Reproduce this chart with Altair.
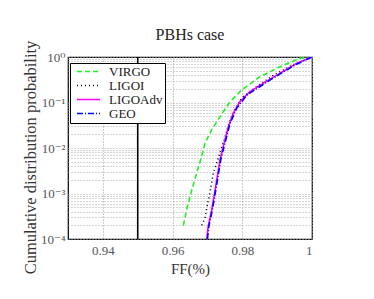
import altair as alt
import pandas as pd

# ---- data ----
virgo_ff = [0.9631, 0.9640, 0.9655, 0.9669, 0.9683, 0.9693, 0.9712, 0.9736, 0.9765, 0.9798, 0.9851, 0.9908, 0.9966, 1.0]
virgo_p = [2.0e-4, 4.3e-4, 1.19e-3, 2.78e-3, 6.45e-3, 1.27e-2, 2.49e-2, 4.88e-2, 0.104, 0.188, 0.369, 0.61, 0.936, 1.0]

ligoi_ff = [0.9684, 0.9693, 0.9698, 0.9707, 0.9717, 0.9736, 0.9748, 0.9762, 0.9778, 0.9800, 0.9840, 0.9890, 0.9950, 1.0]
ligoi_p = [2.0e-4, 2.9e-4, 4.8e-4, 1.03e-3, 2.8e-3, 7.8e-3, 1.5e-2, 3.5e-2, 7.0e-2, 0.13, 0.22, 0.40, 0.70, 1.0]

ligoadv_ff = [0.9698, 0.9702, 0.9712, 0.9722, 0.9736, 0.9745, 0.9760, 0.9774, 0.9793, 0.9822, 0.9860, 0.9908, 0.9956, 1.0]
ligoadv_p = [1.0e-4, 1.86e-4, 4.3e-4, 1.19e-3, 5.45e-3, 1.07e-2, 2.9e-2, 5.8e-2, 0.104, 0.173, 0.264, 0.438, 0.727, 1.0]

geo_ff = [0.9700, 0.9704, 0.9714, 0.9724, 0.9738, 0.9750, 0.9765, 0.9784, 0.9813, 0.9879, 0.9951, 1.0]
geo_p = [1.0e-4, 1.9e-4, 4.3e-4, 1.2e-3, 5.4e-3, 1.27e-2, 3.5e-2, 7.46e-2, 0.146, 0.31, 0.667, 1.0]

threshold_ff = [0.95]

detectors = ["VIRGO", "LIGOI", "LIGOAdv", "GEO"]
det_colors = ["#22ee22", "#000000", "#ff00ff", "#0000ff"]
det_dashes = [[5, 3], [1, 3], [1, 0], [6, 2, 1, 2]]

x_ticks = [0.94, 0.96, 0.98, 1.0]
y_grid = [m * 10.0 ** e for e in range(-4, 0) for m in range(1, 10)] + [1.0]

# ---- tables ----
rows = []
for name, xs, ps in [("VIRGO", virgo_ff, virgo_p), ("LIGOI", ligoi_ff, ligoi_p),
                     ("LIGOAdv", ligoadv_ff, ligoadv_p), ("GEO", geo_ff, geo_p)]:
    for i, (xv, pv) in enumerate(zip(xs, ps)):
        rows.append({"detector": name, "ff": xv, "p": pv, "order": i})
df = pd.DataFrame(rows)
thr = pd.DataFrame({"ff": threshold_ff})

FONT = "Liberation Serif, DejaVu Serif, serif"

xscale = alt.Scale(domain=[0.93, 1.0], nice=False, zero=False)
yscale = alt.Scale(type="log", domain=[1e-4, 1.0], nice=False)

ylabel_expr = ("datum.value > 0.95 ? '10⁰' : (abs(datum.value-0.1)<1e-9 ? '10⁻¹' : "
               "(abs(datum.value-0.01)<1e-10 ? '10⁻²' : (abs(datum.value-0.001)<1e-11 ? '10⁻³' : "
               "(abs(datum.value-0.0001)<1e-12 ? '10⁻⁴' : ''))))")

lines = alt.Chart(df).mark_line(strokeWidth=1.6, clip=True).encode(
    x=alt.X("ff:Q", scale=xscale,
            axis=alt.Axis(values=x_ticks, title="FF(%)", ticks=False, labelPadding=5,
                          labelExpr="datum.value == 1 ? '1' : format(datum.value, '.2f')",
                          grid=True, gridDash=[1, 2], gridColor="#999999",
                          titleY=22)),
    y=alt.Y("p:Q", scale=yscale,
            axis=alt.Axis(values=y_grid, title="Cumulative distribution probability",
                          ticks=False, labelPadding=3, labelExpr=ylabel_expr, labelFlush=False,
                          labelBaseline="middle", labelOverlap=False,
                          grid=True, gridDash=[1, 2], gridColor="#aaaaaa",
                          titleX=-30, titleY=100, titleFontSize=16.5)),
    color=alt.Color("detector:N", scale=alt.Scale(domain=detectors, range=det_colors),
                    legend=alt.Legend(title=None, orient="none", legendX=2, legendY=6)),
    strokeDash=alt.StrokeDash("detector:N", scale=alt.Scale(domain=detectors, range=det_dashes),
                              legend=alt.Legend(title=None, orient="none", legendX=2, legendY=6)),
    order="order:Q",
)

vline = alt.Chart(thr).mark_rule(color="black", strokeWidth=1.6).encode(x=alt.X("ff:Q", scale=xscale))

chart = alt.layer(vline, lines).properties(
    width=244, height=182,
    title=alt.TitleParams("PBHs case", font=FONT, fontSize=16, fontWeight="normal",
                          color="#222222", offset=-3),
    autosize=alt.AutoSizeParams(type="none"),
    padding={"left": 60, "top": 49, "right": 40, "bottom": 40},
).configure_view(stroke="black", strokeWidth=1.2).configure_axis(
    labelFont=FONT, labelFontSize=13, labelColor="#555555",
    titleFont=FONT, titleFontSize=15, titleFontWeight="normal", titleColor="#333333",
    domain=False,
).configure_legend(
    labelFont=FONT, labelFontSize=13, labelColor="#222222",
    symbolType="M-2.3,0H2.3", symbolSize=100, symbolStrokeWidth=1.6, symbolOffset=10,
    fillColor="white", strokeColor="black", padding=2, rowPadding=0, labelOffset=14,
    cornerRadius=0,
)

chart.save("out.html", embed_options={"renderer": "svg", "actions": False})
